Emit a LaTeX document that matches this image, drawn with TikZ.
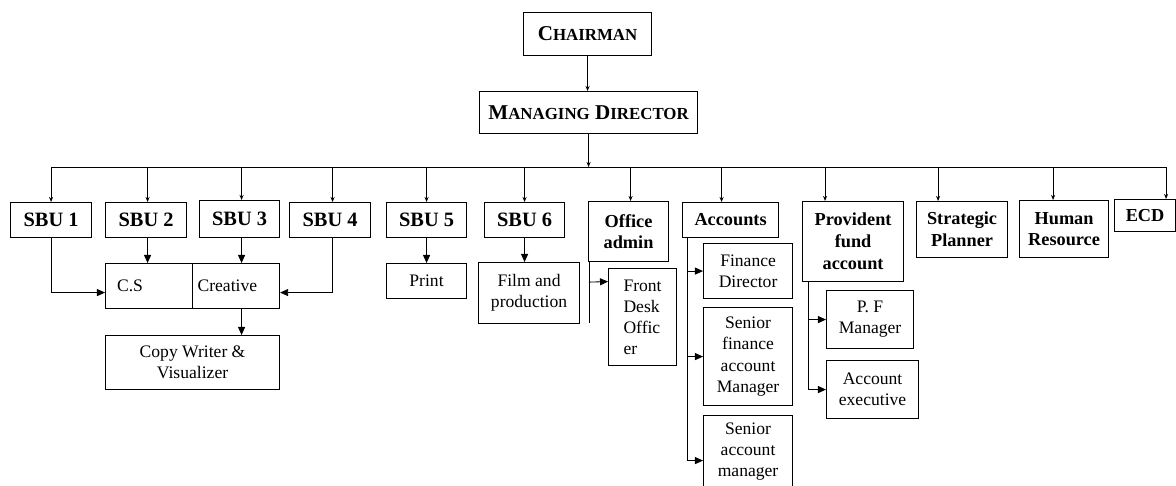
\documentclass[tikz,border=0pt]{standalone}
\usepackage{fontspec}
\setmainfont{Liberation Serif}
\usetikzlibrary{arrows.meta}
\newlength{\pxu}
\setlength{\pxu}{0.025cm}
\newcommand{\scpart}[1]{{\fontsize{12}{14}\selectfont #1}}
\begin{document}
\begin{tikzpicture}[x=0.025cm, y=-0.025cm]
    \tikzstyle{box}=[draw, line width=0.8pt, inner sep=2pt, anchor=north west, align=center, font=\fontsize{12.5}{15}\selectfont]
    \tikzstyle{head}=[box, font=\bfseries\fontsize{13}{15.5}\selectfont]
    \tikzstyle{sbu}=[box, font=\bfseries\fontsize{14.5}{17}\selectfont]
    \tikzstyle{drop}=[-{Stealth[length=3.6pt,width=2.9pt]}, line width=0.6pt]
    \tikzstyle{tri}=[-{Triangle[length=5.7pt,width=5pt]}, line width=0.6pt]
    \useasboundingbox (0,0) rectangle (1176,486);
    % top
    \node (chair) [box, font=\bfseries\fontsize{15}{17}\selectfont, minimum width=128\pxu, minimum height=43\pxu] at (523,12) {C\scpart{HAIRMAN}};
    \node (md) [box, font=\bfseries\fontsize{15}{17}\selectfont, minimum width=218\pxu, minimum height=42\pxu] at (479,91) {M\scpart{ANAGING} D\scpart{IRECTOR}};
    \coordinate (bus) at (587,167);
    % units
    \node (sbu1) [sbu, minimum width=81\pxu, minimum height=35\pxu] at (10,202) {SBU 1};
    \node (sbu2) [sbu, minimum width=81\pxu, minimum height=35\pxu] at (105,202) {SBU 2};
    \node (sbu3) [sbu, minimum width=80\pxu, minimum height=37\pxu] at (199,200) {SBU 3};
    \node (sbu4) [sbu, minimum width=81\pxu, minimum height=35\pxu] at (289,202) {SBU 4};
    \node (sbu5) [sbu, minimum width=80\pxu, minimum height=35\pxu] at (386,202) {SBU 5};
    \node (sbu6) [sbu, minimum width=80\pxu, minimum height=35\pxu] at (484,202) {SBU 6};
    \node (office) [head, minimum width=80\pxu, minimum height=60\pxu] at (588,201) {Office\\admin};
    \node (acc) [head, minimum width=96\pxu, minimum height=35\pxu] at (682,202) {Accounts};
    \node (pf) [head, minimum width=101\pxu, minimum height=80\pxu] at (802,201) {Provident\\fund\\account};
    \node (strat) [head, minimum width=91\pxu, minimum height=56\pxu] at (916,201) {Strategic\\Planner};
    \node (hr) [head, minimum width=89\pxu, minimum height=57\pxu] at (1019,200) {Human\\Resource};
    \node (ecd) [head, minimum width=61\pxu, minimum height=32\pxu] at (1114,199) {ECD};
    % second level
    \node (cs) [box, minimum width=87\pxu, minimum height=45\pxu, text width=64\pxu, align=left] at (105,263) {C.S};
    \node (creative) [box, minimum width=87\pxu, minimum height=45\pxu, text width=77\pxu, align=left] at (192,263) {Creative};
    \node (copy) [box, minimum width=174\pxu, minimum height=54\pxu] at (105,335) {Copy Writer \&\\Visualizer};
    \node (print) [box, minimum width=80\pxu, minimum height=35\pxu] at (386,263) {Print};
    \node (film) [box, minimum width=101\pxu, minimum height=61\pxu] at (478,262) {Film and\\production};
    \node (front) [box, minimum width=68\pxu, minimum height=97\pxu, align=left] at (608,268) {Front\\Desk\\Offic\\er};
    \node (fd) [box, minimum width=89\pxu, minimum height=55\pxu] at (703,243) {Finance\\Director};
    \node (sfam) [box, minimum width=89\pxu, minimum height=98\pxu] at (703,307) {Senior\\finance\\account\\Manager};
    \node (sam) [box, minimum width=89\pxu, minimum height=72\pxu] at (703,415) {Senior\\account\\manager};
    \node (pfm) [box, minimum width=87\pxu, minimum height=58\pxu] at (826,290) {P. F\\Manager};
    \node (acex) [box, minimum width=92\pxu, minimum height=58\pxu] at (826,360) {Account\\executive};
    % connectors
    \draw [drop] (chair.south) -- (chair.south |- md.north);
    \draw [drop] (md.south) -- (md.south |- bus);
    \draw [line width=0.6pt] (sbu1.north |- bus) -- ([xshift=21\pxu]ecd.north |- bus);
    \foreach \n/\dx in {sbu1/0, sbu2/1.5, sbu3/2, sbu4/2.5, sbu5/0, sbu6/0, office/2, acc/-9, pf/-28, strat/-24, hr/-11, ecd/21}
        \draw [drop] ([xshift=\dx\pxu]\n.north |- bus) -- ([xshift=\dx\pxu]\n.north);
    \draw [tri] (sbu1.south) |- ([yshift=-6.5\pxu]cs.west);
    \draw [tri] ([xshift=1.5\pxu]sbu2.south) -- ([xshift=1.5\pxu]sbu2.south |- cs.north);
    \draw [tri] ([xshift=2\pxu]sbu3.south) -- ([xshift=2\pxu]sbu3.south |- creative.north);
    \draw [tri] ([xshift=2.5\pxu]sbu4.south) |- ([yshift=-6.5\pxu]creative.east);
    \draw [tri] ([xshift=2\pxu]sbu3.south |- creative.south) -- ([xshift=2\pxu]sbu3.south |- copy.north);
    \draw [tri] (sbu5) -- (print);
    \draw [tri] (sbu6.south) -- (sbu6.south |- film.north);
    \draw [line width=0.6pt] ([xshift=1\pxu]office.south west) -- ++(0,61);
    \draw [tri] ([xshift=1\pxu,yshift=-20\pxu]office.south west) -- ([yshift=35.5\pxu]front.west);
    \coordinate (acctop) at ([xshift=5\pxu]acc.south west);
    \draw [tri] (acctop) |- ([yshift=-9\pxu]sam.west);
    \draw [tri] (acctop |- fd.west) -- (fd.west);
    \draw [tri] (acctop |- sfam.west) -- (sfam.west);
    \coordinate (pftop) at ([xshift=6\pxu]pf.south west);
    \draw [tri] (pftop) |- (acex.west);
    \draw [tri] (pftop |- pfm.west) -- (pfm.west);
\end{tikzpicture}
\end{document}
